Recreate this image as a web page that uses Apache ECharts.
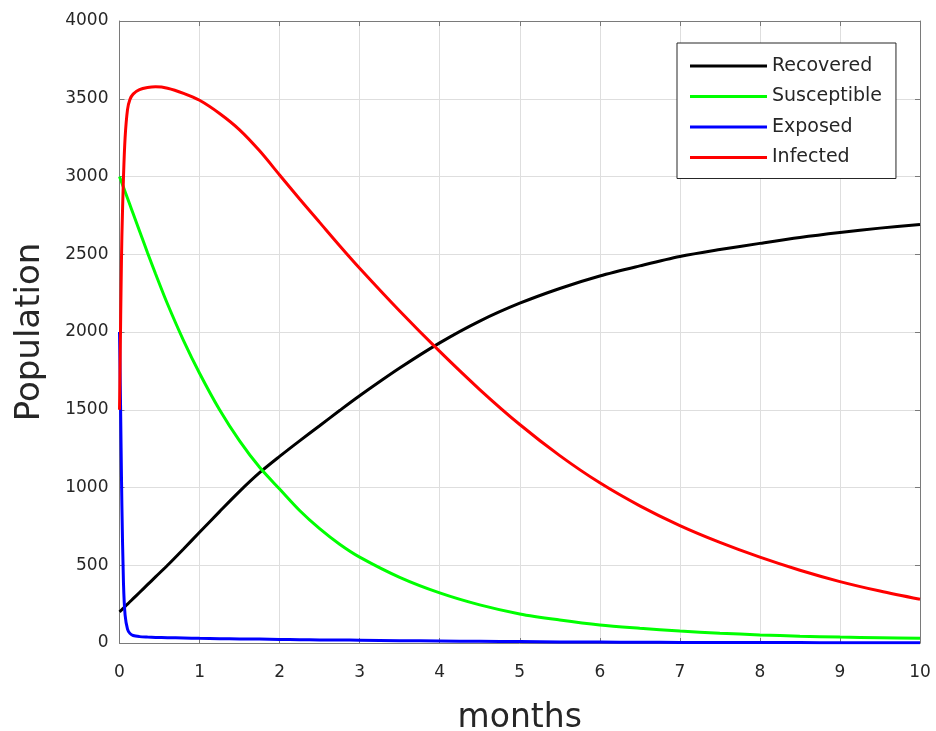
<!DOCTYPE html>
<html>
<head>
<meta charset="utf-8">
<script src="https://cdn.jsdelivr.net/npm/echarts@6/dist/echarts.min.js"></script>
<style>html,body{margin:0;padding:0;background:#fff;}#chart{width:936px;height:731px;}</style>
</head>
<body>
<div id="chart"></div>
<script>
const months = [0, 0.01, 0.02, 0.03, 0.05, 0.07, 0.1, 0.13, 0.17, 0.25, 0.35, 0.45, 0.6, 0.8, 1, 1.25, 1.5, 1.75, 2, 2.25, 2.5, 2.75, 3, 3.5, 4, 4.5, 5, 5.5, 6, 6.5, 7, 7.5, 8, 8.5, 9, 9.5, 10];
const recovered = [200, 205, 210, 215, 225, 235, 250, 265, 285, 325, 375, 425, 500, 605, 712, 845, 975, 1095, 1200, 1300, 1397, 1495, 1590, 1768, 1930, 2070, 2185, 2280, 2360, 2425, 2485, 2530, 2570, 2608, 2640, 2668, 2692];
const susceptible = [3000, 2986, 2972, 2958, 2930, 2902, 2860, 2818, 2762, 2650, 2510, 2375, 2180, 1945, 1735, 1500, 1300, 1130, 990, 852, 735, 635, 552, 422, 322, 245, 187, 148, 116, 95, 77, 63, 52, 44, 38, 34, 30];
const exposed = [2000, 1650, 1250, 880, 380, 180, 90, 62, 48, 41, 38, 36, 34, 32, 30, 28, 26, 25, 23, 21.5, 20, 19, 18, 15, 13, 11, 9, 7, 6, 5, 4, 3.5, 3, 2.5, 2, 2, 2];
const infected = [1500, 1900, 2300, 2620, 3000, 3250, 3430, 3495, 3530, 3558, 3572, 3577, 3568, 3535, 3490, 3405, 3300, 3165, 3010, 2855, 2705, 2555, 2410, 2135, 1875, 1630, 1405, 1205, 1030, 882, 755, 647, 552, 468, 395, 334, 281];
const seriesNames = ['Recovered', 'Susceptible', 'Exposed', 'Infected'];
const seriesColors = ['#000000', '#00ff00', '#0000ff', '#ff0000'];
const seriesValues = [recovered, susceptible, exposed, infected];

const txt = '#262626';
const axisCol = '#7a7a7a';
const gridCol = '#dedede';
const font = 'DejaVu Sans, sans-serif';

const chart = echarts.init(document.getElementById('chart'));
const baseX = {
  type: 'value', min: 0, max: 10, interval: 1,
  axisLine: {onZero: false, lineStyle: {color: axisCol, width: 1}},
  axisTick: {inside: true, length: 5, lineStyle: {color: axisCol}},
};
const baseY = {
  type: 'value', min: 0, max: 4000, interval: 500,
  axisLine: {show: true, onZero: false, lineStyle: {color: axisCol, width: 1}},
  axisTick: {show: true, inside: true, length: 5, lineStyle: {color: axisCol}},
};
chart.setOption({
  animation: false,
  backgroundColor: '#ffffff',
  grid: {left: 119.5, right: 16, top: 21, bottom: 88, containLabel: false, outerBoundsMode: 'none'},
  xAxis: [
    Object.assign({}, baseX, {
      position: 'bottom', name: 'months', nameLocation: 'middle', nameGap: 59,
      nameTextStyle: {fontSize: 33, color: txt, fontFamily: font},
      axisLabel: {margin: 21, fontSize: 17, color: txt, fontFamily: font, formatter: v => String(v)},
      splitLine: {show: true, lineStyle: {color: gridCol, width: 1}}
    }),
    Object.assign({}, baseX, {
      position: 'top', axisLabel: {show: false}, splitLine: {show: false}
    })
  ],
  yAxis: [
    Object.assign({}, baseY, {
      position: 'left', name: 'Population', nameLocation: 'middle', nameGap: 72,
      nameTextStyle: {fontSize: 34, color: txt, fontFamily: font},
      axisLabel: {margin: 11, fontSize: 17, color: txt, fontFamily: font, formatter: v => String(v)},
      splitLine: {show: true, lineStyle: {color: gridCol, width: 1}}
    }),
    Object.assign({}, baseY, {
      position: 'right', axisLabel: {show: false}, splitLine: {show: false}
    })
  ],
  legend: {
    show: true, orient: 'vertical', left: 677, top: 43,
    data: seriesNames,
    icon: 'rect', itemWidth: 77, itemHeight: 3, itemGap: 11.5,
    padding: [13.5, 14, 11.5, 13],
    borderColor: '#262626', borderWidth: 1, backgroundColor: '#ffffff',
    textStyle: {fontSize: 19, color: txt, fontFamily: font, lineHeight: 19},
    selectedMode: false
  },
  series: seriesNames.map((n, i) => ({
    name: n, type: 'line', xAxisIndex: 0, yAxisIndex: 0,
    data: months.map((t, k) => [t, seriesValues[i][k]]),
    showSymbol: false, symbol: 'none',
    smooth: 0.3,
    lineStyle: {color: seriesColors[i], width: 3},
    itemStyle: {color: seriesColors[i]},
    z: 2 + i
  }))
});
</script>
</body>
</html>
